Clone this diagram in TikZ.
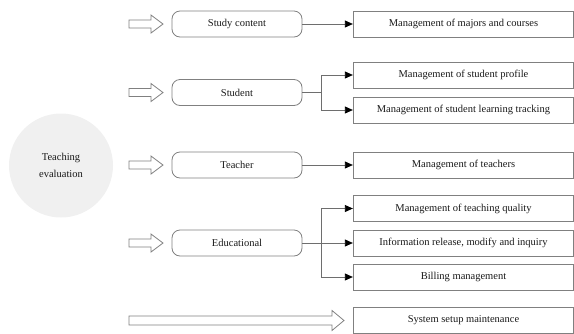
\documentclass[tikz,border=0pt]{standalone}
\usepackage{fontspec}
\setmainfont{Liberation Serif}
\usetikzlibrary{arrows.meta}
\definecolor{boxline}{HTML}{808080}
\definecolor{conline}{HTML}{6E6E6E}
\definecolor{circfill}{HTML}{F0F0F0}
\definecolor{txt}{HTML}{1A1A1A}
\tikzset{
  every node/.style={font=\fontsize{10.5}{13}\selectfont, text=txt},
  catbox/.style={draw=boxline, line width=0.8pt, rounded corners=8pt, minimum width=130pt, minimum height=26pt, inner sep=0pt},
  funcbox/.style={draw=boxline, line width=0.8pt, minimum width=220.5pt, minimum height=26pt, inner sep=0pt},
  conn/.style={draw=conline, line width=0.8pt},
  connarr/.style={conn, -{Triangle[length=8pt,width=7pt,color=black]}},
  hollow/.style={draw=boxline, line width=0.8pt, fill=white},
}
\newcommand{\hollowarrow}[5]{% x1, x2 (tip), y, shaft half, head half
  \draw[hollow] (#1,#3-#4) -- ({#2-12},#3-#4) -- ({#2-12},#3-#5) -- (#2,#3) -- ({#2-12},#3+#5) -- ({#2-12},#3+#4) -- (#1,#3+#4) -- cycle;
}
\begin{document}
\begin{tikzpicture}[x=1pt,y=-1pt]
\useasboundingbox (0,0) rectangle (574,333);
% circle
\node[circle, fill=circfill, minimum size=104pt, inner sep=0pt, align=center,
      font=\fontsize{10.5}{17}\selectfont] (te) at (61,165.5) {Teaching\\evaluation};

% category boxes
\node[catbox] (sc) at (237,24) {Study content};
\node[catbox] (st) at (237,92.5) {Student};
\node[catbox] (tc) at (237,165) {Teacher};
\node[catbox] (ed) at (237,243) {Educational};

% hollow arrows
\hollowarrow{129}{163}{24}{4}{9}
\hollowarrow{129}{163}{92.5}{4}{9}
\hollowarrow{129}{163}{165}{4}{9}
\hollowarrow{129}{163}{243}{4}{9}
\hollowarrow{129}{344}{320.5}{4.5}{10}

% function boxes
\node[funcbox] (maj) at (463.5,24) {Management of majors and courses};
\node[funcbox] (prof) at (463.5,75) {Management of student profile};
\node[funcbox] (trk) at (463.5,110) {Management of student learning tracking};
\node[funcbox] (tch) at (463.5,165) {Management of teachers};
\node[funcbox] (qual) at (463.5,208.5) {Management of teaching quality};
\node[funcbox] (info) at (463.5,243) {Information release, modify and inquiry};
\node[funcbox] (bill) at (463.5,277) {Billing management};
\node[funcbox] (sys) at (463.5,320.5) {System setup maintenance};

% connectors
\draw[connarr] (sc.east) -- (maj.west);
\draw[connarr] (tc.east) -- (tch.west);

\coordinate (bs) at (321,92.5);
\draw[conn] (st.east) -- (bs);
\draw[connarr] (bs) |- (prof.west);
\draw[connarr] (bs) |- (trk.west);

\coordinate (be) at (321,243);
\draw[connarr] (ed.east) -- (info.west);
\draw[connarr] (be) |- (qual.west);
\draw[connarr] (be) |- (bill.west);
\end{tikzpicture}
\end{document}
